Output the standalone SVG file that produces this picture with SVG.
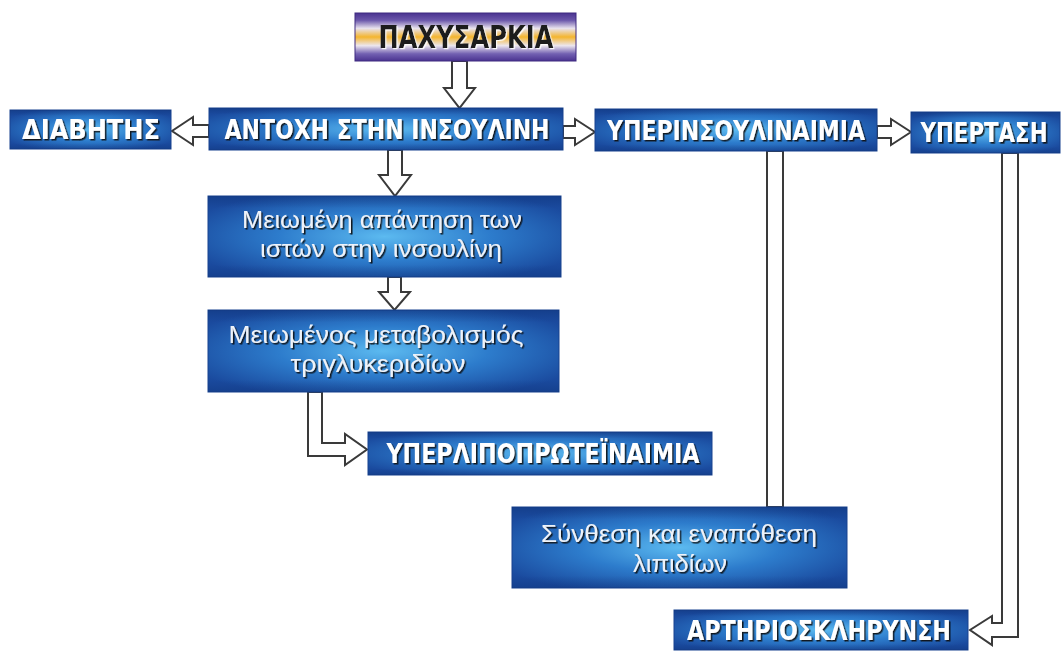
<svg xmlns="http://www.w3.org/2000/svg" width="1062" height="651" viewBox="0 0 1062 651">
  <style>
    .box { fill: url(#gb); stroke: #18438f; stroke-width: 1; }
    .shade { fill: url(#gv); }
    .cap { font-family: "DejaVu Sans Condensed", "DejaVu Sans", "Liberation Sans", sans-serif; font-weight: bold; font-stretch: condensed; fill: #ffffff; text-anchor: middle; filter: url(#ts); font-size: 27px; }
    .low { font-family: "Liberation Sans", Arial, sans-serif; fill: #eef2f8; text-anchor: middle; filter: url(#ts); font-size: 24px; }
    .arrow { fill: #ffffff; stroke: #3a3a3a; stroke-width: 2; stroke-linejoin: miter; }
    .title { font-family: "DejaVu Sans Condensed", "DejaVu Sans", "Liberation Sans", sans-serif; font-weight: bold; font-stretch: condensed; fill: #1e1e1e; text-anchor: middle; filter: url(#tw); }
  </style>
  <defs>
    <radialGradient id="gb" cx="0.5" cy="0.5" r="0.6">
      <stop offset="0" stop-color="#5cbaf0"/>
      <stop offset="0.5" stop-color="#2d7ccc"/>
      <stop offset="1" stop-color="#1a4a9e"/>
    </radialGradient>
    <linearGradient id="gv" x1="0" y1="0" x2="0" y2="1">
      <stop offset="0" stop-color="#0a2a6a" stop-opacity="0.35"/>
      <stop offset="0.15" stop-color="#0a2a6a" stop-opacity="0"/>
      <stop offset="0.85" stop-color="#0a2a6a" stop-opacity="0"/>
      <stop offset="1" stop-color="#0a2a6a" stop-opacity="0.3"/>
    </linearGradient>
    <linearGradient id="gp" x1="0" y1="0" x2="0" y2="1">
      <stop offset="0" stop-color="#4a3390"/>
      <stop offset="0.15" stop-color="#6a56aa"/>
      <stop offset="0.32" stop-color="#e8e2ee"/>
      <stop offset="0.5" stop-color="#f4b52e"/>
      <stop offset="0.68" stop-color="#ece6ee"/>
      <stop offset="0.85" stop-color="#7361b2"/>
      <stop offset="1" stop-color="#4a3390"/>
    </linearGradient>
    <filter id="ts" x="-3%" y="-20%" width="106%" height="150%">
      <feDropShadow dx="1.5" dy="1.5" stdDeviation="0.7" flood-color="#111111" flood-opacity="0.9"/>
    </filter>
    <filter id="tw" x="-3%" y="-20%" width="106%" height="150%">
      <feDropShadow dx="1.2" dy="1.2" stdDeviation="0.6" flood-color="#ffffff" flood-opacity="0.9"/>
    </filter>
  </defs>

  <g id="connectors">
    <path class="arrow" d="M452,61 L467,61 L467,88 L475,88 L459.5,108 L444,88 L452,88 Z"/>
    <path class="arrow" d="M209,125 L193,125 L193,117 L172,131 L193,145 L193,137 L209,137 Z"/>
    <path class="arrow" d="M563,126 L575,126 L575,119 L595,132 L575,145 L575,138 L563,138 Z"/>
    <path class="arrow" d="M877,126 L891,126 L891,119 L911,132 L891,145 L891,138 L877,138 Z"/>
    <path class="arrow" d="M388,150 L402,150 L402,175 L411,175 L395,196 L379,175 L388,175 Z"/>
    <path class="arrow" d="M388,277 L401,277 L401,292 L410,292 L394.5,310 L379,292 L388,292 Z"/>
    <path class="arrow" d="M308,392 L322,392 L322,443 L345,443 L345,434 L367,449.5 L345,465 L345,456 L308,456 Z"/>
    <path class="arrow" d="M767,151 L783,151 L783,507 L767,507 Z"/>
    <path class="arrow" d="M1002,153 L1018,153 L1018,637 L992,637 L992,645 L970,630 L992,616 L992,623 L1002,623 Z"/>
  </g>

  <g id="node-paxysarkia">
    <rect x="355" y="13" width="221" height="48" fill="url(#gp)" stroke="#3e2a80" stroke-width="1"/>
    <text class="title" x="466" y="48" font-size="32" textLength="175" lengthAdjust="spacingAndGlyphs">ΠΑΧΥΣΑΡΚΙΑ</text>
  </g>

  <g id="node-diavitis">
    <rect class="box" x="10" y="110" width="161" height="39"/>
    <rect class="shade" x="10" y="110" width="161" height="39"/>
    <text class="cap" x="91" y="139" textLength="138" lengthAdjust="spacingAndGlyphs">ΔΙΑΒΗΤΗΣ</text>
  </g>

  <g id="node-antoxi">
    <rect class="box" x="209" y="108" width="354" height="42"/>
    <rect class="shade" x="209" y="108" width="354" height="42"/>
    <text class="cap" x="387" y="139" textLength="325" lengthAdjust="spacingAndGlyphs">ΑΝΤΟΧΗ ΣΤΗΝ ΙΝΣΟΥΛΙΝΗ</text>
  </g>

  <g id="node-yperinsoulinaimia">
    <rect class="box" x="595" y="109" width="282" height="42"/>
    <rect class="shade" x="595" y="109" width="282" height="42"/>
    <text class="cap" x="736" y="140" textLength="258" lengthAdjust="spacingAndGlyphs">ΥΠΕΡΙΝΣΟΥΛΙΝΑΙΜΙΑ</text>
  </g>

  <g id="node-ypertasi">
    <rect class="box" x="911" y="112" width="149" height="41"/>
    <rect class="shade" x="911" y="112" width="149" height="41"/>
    <text class="cap" x="0" y="0" transform="translate(984,142) scale(1,1.12)" style="font-size:24px" textLength="127" lengthAdjust="spacingAndGlyphs">ΥΠΕΡΤΑΣΗ</text>
  </g>

  <g id="node-meiomeni-apantisi">
    <rect class="box" x="208" y="196" width="353" height="81"/>
    <rect class="shade" x="208" y="196" width="353" height="81"/>
    <text class="low" x="382" y="228" textLength="280" lengthAdjust="spacingAndGlyphs">Μειωμένη απάντηση των</text>
    <text class="low" x="381" y="257" textLength="242" lengthAdjust="spacingAndGlyphs">ιστών στην ινσουλίνη</text>
  </g>

  <g id="node-meiomenos-metavolismos">
    <rect class="box" x="208" y="310" width="351" height="82"/>
    <rect class="shade" x="208" y="310" width="351" height="82"/>
    <text class="low" x="376" y="343" textLength="295" lengthAdjust="spacingAndGlyphs">Μειωμένος μεταβολισμός</text>
    <text class="low" x="378" y="372" textLength="175" lengthAdjust="spacingAndGlyphs">τριγλυκεριδίων</text>
  </g>

  <g id="node-yperlipoproteinaimia">
    <rect class="box" x="368" y="432" width="344" height="43"/>
    <rect class="shade" x="368" y="432" width="344" height="43"/>
    <text class="cap" x="543" y="463" textLength="313" lengthAdjust="spacingAndGlyphs">ΥΠΕΡΛΙΠΟΠΡΩΤΕΪΝΑΙΜΙΑ</text>
  </g>

  <g id="node-synthesi">
    <rect class="box" x="512" y="507" width="335" height="81"/>
    <rect class="shade" x="512" y="507" width="335" height="81"/>
    <text class="low" x="679" y="542" textLength="276" lengthAdjust="spacingAndGlyphs">Σύνθεση και εναπόθεση</text>
    <text class="low" x="680" y="572" textLength="94" lengthAdjust="spacingAndGlyphs">λιπιδίων</text>
  </g>

  <g id="node-artiriosklirynsi">
    <rect class="box" x="674" y="610" width="294" height="40"/>
    <rect class="shade" x="674" y="610" width="294" height="40"/>
    <text class="cap" x="819" y="640" textLength="264" lengthAdjust="spacingAndGlyphs">ΑΡΤΗΡΙΟΣΚΛΗΡΥΝΣΗ</text>
  </g>
</svg>
